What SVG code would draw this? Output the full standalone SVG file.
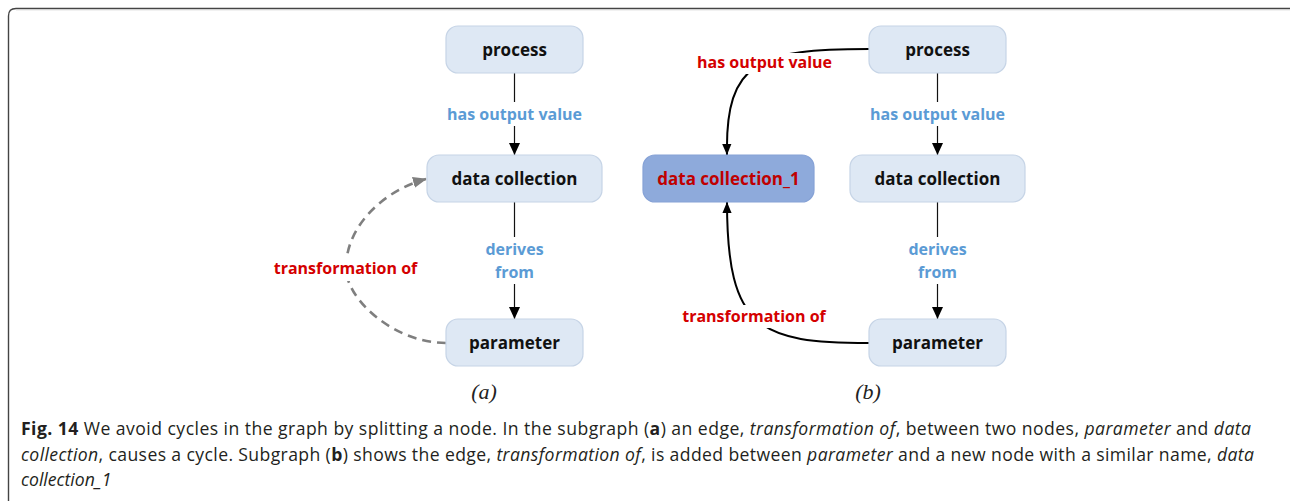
<svg xmlns="http://www.w3.org/2000/svg" width="1290" height="501" viewBox="0 0 1290 501">
  <style>
    .node { fill: #dee8f4; stroke: #c6d4e6; stroke-width: 1.2; }
    .node-alt { fill: #8eaadb; stroke: #86a2d6; stroke-width: 1.2; }
    .ntext { font-family: "Open Sans", "Liberation Sans", sans-serif; font-weight: bold; font-size: 17px; fill: #111; text-anchor: middle; }
    .ntext-red { fill: #c00000; }
    .lbl { font-family: "Open Sans", "Liberation Sans", sans-serif; font-weight: bold; font-size: 16px; text-anchor: middle; }
    .blue { fill: #5b9bd5; }
    .red { fill: #d40000; }
    .lblbg { fill: #ffffff; }
    .edge { fill: none; stroke: #111; stroke-width: 1.2; }
    .edge-bold { fill: none; stroke: #000; stroke-width: 2; }
    .edge-dash { fill: none; stroke: #7f7f7f; stroke-width: 2.6; stroke-dasharray: 9 6; }
    .sub { font-family: "Liberation Serif", serif; font-style: italic; font-size: 22px; fill: #222; text-anchor: middle; }
    .cap { font-family: "Open Sans", "Liberation Sans", sans-serif; font-size: 17.6px; fill: #231f20; }
    .b { font-weight: bold; }
    .i { font-style: italic; }
  </style>
  <defs>
    <marker id="arrow" viewBox="0 0 12 12" refX="12" refY="6" markerWidth="12" markerHeight="12" markerUnits="userSpaceOnUse" orient="auto">
      <path d="M0,0.5 L12,6 L0,11.5 Z" fill="#000"/>
    </marker>
    <marker id="arrow-b" viewBox="0 0 12 12" refX="12" refY="6" markerWidth="12" markerHeight="11" markerUnits="userSpaceOnUse" orient="auto">
      <path d="M0,1 L12,6 L0,11 Z" fill="#000"/>
    </marker>
    <marker id="arrow-gray" viewBox="0 0 14 12" refX="13" refY="6" markerWidth="14" markerHeight="12" markerUnits="userSpaceOnUse" orient="auto">
      <path d="M0,0.5 L14,6 L0,11.5 Z" fill="#7f7f7f"/>
    </marker>
  </defs>

  <!-- figure frame: top and left rules with rounded corner -->
  <path d="M8.5,501 V16 Q8.5,8.5 16,8.5 H1290" fill="none" stroke="#444" stroke-width="1.4"/>
  <path d="M16,9.8 H1290" fill="none" stroke="#d0d0d0" stroke-width="1"/>

  <g id="connectors">
    <!-- (a) -->
    <path class="edge" d="M514.5,73 V155" marker-end="url(#arrow)"/>
    <path class="edge" d="M514.5,202 V319" marker-end="url(#arrow)"/>
    <path class="edge-dash" d="M446,343 C395,343 346,300 346,268 C346,225 385,190 426,179" marker-end="url(#arrow-gray)"/>
    <!-- (b) -->
    <path class="edge" d="M937.5,73 V155" marker-end="url(#arrow)"/>
    <path class="edge" d="M937.5,202 V319" marker-end="url(#arrow)"/>
    <path class="edge-bold" d="M869,49 C760,49 725,60 727,155" marker-end="url(#arrow-b)"/>
    <path class="edge-bold" d="M869,343 C760,343 727,330 727,202" marker-end="url(#arrow-b)"/>

    <!-- label backgrounds -->
    <rect class="lblbg" x="445" y="102" width="140" height="24"/>
    <rect class="lblbg" x="460" y="237" width="110" height="47"/>
    <rect class="lblbg" x="272" y="258" width="146" height="23"/>
    <rect class="lblbg" x="868" y="102" width="140" height="24"/>
    <rect class="lblbg" x="883" y="237" width="110" height="47"/>
    <rect class="lblbg" x="696" y="53" width="137" height="21"/>
    <rect class="lblbg" x="681" y="305" width="146" height="23"/>

    <!-- edge labels -->
    <text class="lbl blue" x="514.5" y="120">has output value</text>
    <text class="lbl blue" x="514.5" y="255">derives</text>
    <text class="lbl blue" x="514.5" y="278">from</text>
    <text class="lbl red" x="345.5" y="274">transformation of</text>
    <text class="lbl blue" x="937.5" y="120">has output value</text>
    <text class="lbl blue" x="937.5" y="255">derives</text>
    <text class="lbl blue" x="937.5" y="278">from</text>
    <text class="lbl red" x="764.5" y="68">has output value</text>
    <text class="lbl red" x="754" y="322">transformation of</text>
  </g>

  <!-- subgraph (a) -->
  <g id="a-process">
    <rect class="node" x="446" y="26" width="137" height="47" rx="12"/>
    <text class="ntext" x="514.5" y="56">process</text>
  </g>
  <g id="a-data-collection">
    <rect class="node" x="427" y="155" width="175" height="47" rx="12"/>
    <text class="ntext" x="514.5" y="184.5">data collection</text>
  </g>
  <g id="a-parameter">
    <rect class="node" x="446" y="319" width="137" height="47" rx="12"/>
    <text class="ntext" x="514.5" y="349">parameter</text>
  </g>

  <!-- subgraph (b) -->
  <g id="b-process">
    <rect class="node" x="869" y="26" width="137" height="47" rx="12"/>
    <text class="ntext" x="937.5" y="56">process</text>
  </g>
  <g id="b-data-collection">
    <rect class="node" x="850" y="155" width="175" height="47" rx="12"/>
    <text class="ntext" x="937.5" y="184.5">data collection</text>
  </g>
  <g id="b-data-collection-1">
    <rect class="node-alt" x="643" y="155" width="171" height="47" rx="12"/>
    <text class="ntext ntext-red" x="728.5" y="184.5">data collection_1</text>
  </g>
  <g id="b-parameter">
    <rect class="node" x="869" y="319" width="137" height="47" rx="12"/>
    <text class="ntext" x="937.5" y="349">parameter</text>
  </g>

  <!-- subgraph tags -->
  <text class="sub" x="484" y="399">(a)</text>
  <text class="sub" x="868" y="399">(b)</text>

  <!-- caption -->
  <text class="cap" x="21" y="435" textLength="1230" lengthAdjust="spacing"><tspan class="b">Fig. 14</tspan> We avoid cycles in the graph by splitting a node. In the subgraph (<tspan class="b">a</tspan>) an edge, <tspan class="i">transformation of</tspan>, between two nodes, <tspan class="i">parameter</tspan> and <tspan class="i">data</tspan></text>
  <text class="cap" x="21" y="461" textLength="1233" lengthAdjust="spacing"><tspan class="i">collection</tspan>, causes a cycle. Subgraph (<tspan class="b">b</tspan>) shows the edge, <tspan class="i">transformation of</tspan>, is added between <tspan class="i">parameter</tspan> and a new node with a similar name, <tspan class="i">data</tspan></text>
  <text class="cap" x="21" y="486"><tspan class="i">collection_1</tspan></text>
</svg>
